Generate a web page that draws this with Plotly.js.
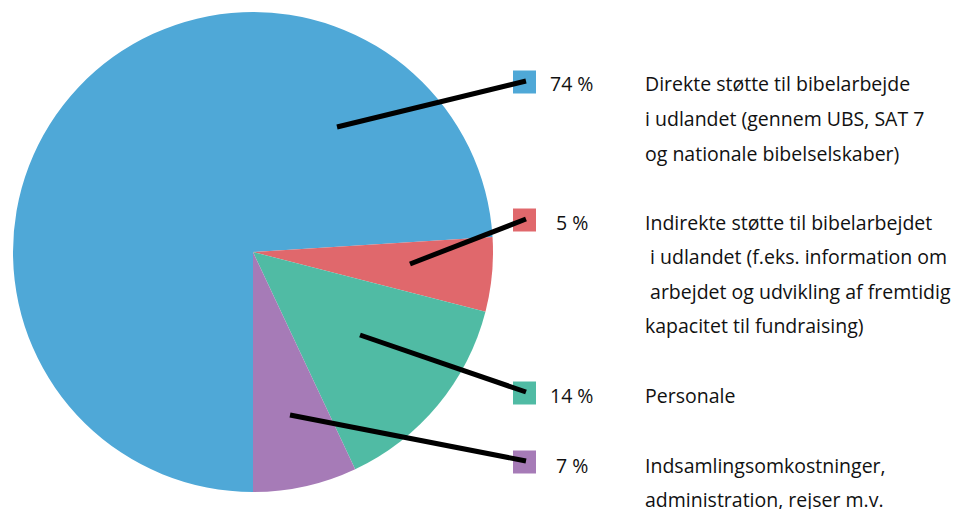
<!DOCTYPE html>
<html>
<head>
<meta charset="utf-8">
<script src="https://cdn.plot.ly/plotly-3.0.1.min.js"></script>
<style>html,body{margin:0;padding:0;background:#fff;}#chart{width:963px;height:509px;}</style>
</head>
<body>
<div id="chart"></div>
<script>
// ---- data ----
const labels = ["Direkte støtte", "Indirekte støtte", "Personale", "Indsamling"];
const values = [74, 5, 14, 7];
const colors = ["#4FA8D7", "#E0686C", "#50BBA4", "#A67BB7"];
const descriptions = [
  ["Direkte støtte til bibelarbejde", "i udlandet (gennem UBS, SAT 7", "og nationale bibelselskaber)"],
  ["Indirekte støtte til bibelarbejdet", "\u00a0i udlandet (f.eks. information om", "\u00a0arbejdet og udvikling af fremtidig", "kapacitet til fundraising)"],
  ["Personale"],
  ["Indsamlingsomkostninger,", "administration, rejser m.v."]
];

// ---- layout helpers (pixel -> paper) ----
const W = 963, H = 509;
const px = x => x / W;
const py = y => 1 - y / H;

const cx = 253, cy = 252, R = 240;
const legendY = [82, 220, 393, 462];     // square centres
const textY = [84, 222, 395, 465];       // first text line centres
const lineGap = 34.5;
const leaderStart = [[337,127],[410,264],[360,335],[290,415]];
const leaderEnd = [526,0];

const shapes = [];
const annotations = [];
const font = {family: "Open Sans, sans-serif", size: 19.5, color: "#111111", weight: 500};

values.forEach((v, i) => {
  shapes.push({type: "rect", xref: "paper", yref: "paper",
    x0: px(513), x1: px(536), y0: py(legendY[i] - 11.5), y1: py(legendY[i] + 11.5),
    fillcolor: colors[i], line: {width: 0}, layer: "above"});
  shapes.push({type: "line", xref: "paper", yref: "paper",
    x0: px(leaderStart[i][0]), y0: py(leaderStart[i][1]),
    x1: px(leaderEnd[0]), y1: py(legendY[i] - 1),
    line: {color: "#000", width: 5}, layer: "above"});
  annotations.push({xref: "paper", yref: "paper", x: px(572), y: py(textY[i]),
    xanchor: "center", yanchor: "middle", showarrow: false,
    text: v + " %", font: font});
  descriptions[i].forEach((t, k) => {
    annotations.push({xref: "paper", yref: "paper", x: px(643), y: py(textY[i] + k * lineGap),
      xanchor: "left", yanchor: "middle", showarrow: false, align: "left",
      text: t, font: font});
  });
});

const trace = {
  type: "pie",
  labels: labels,
  values: values,
  sort: false,
  direction: "clockwise",
  rotation: 180,
  textinfo: "none",
  hoverinfo: "label+percent",
  marker: {colors: colors, line: {width: 0}},
  domain: {x: [px(cx - R), px(cx + R)], y: [py(cy + R), py(cy - R)]},
  showlegend: false
};

Plotly.newPlot("chart", [trace], {
  width: W, height: H,
  margin: {l: 0, r: 0, t: 0, b: 0},
  paper_bgcolor: "#fff",
  showlegend: false,
  shapes: shapes,
  annotations: annotations
}, {displayModeBar: false, staticPlot: true});
</script>
</body>
</html>
